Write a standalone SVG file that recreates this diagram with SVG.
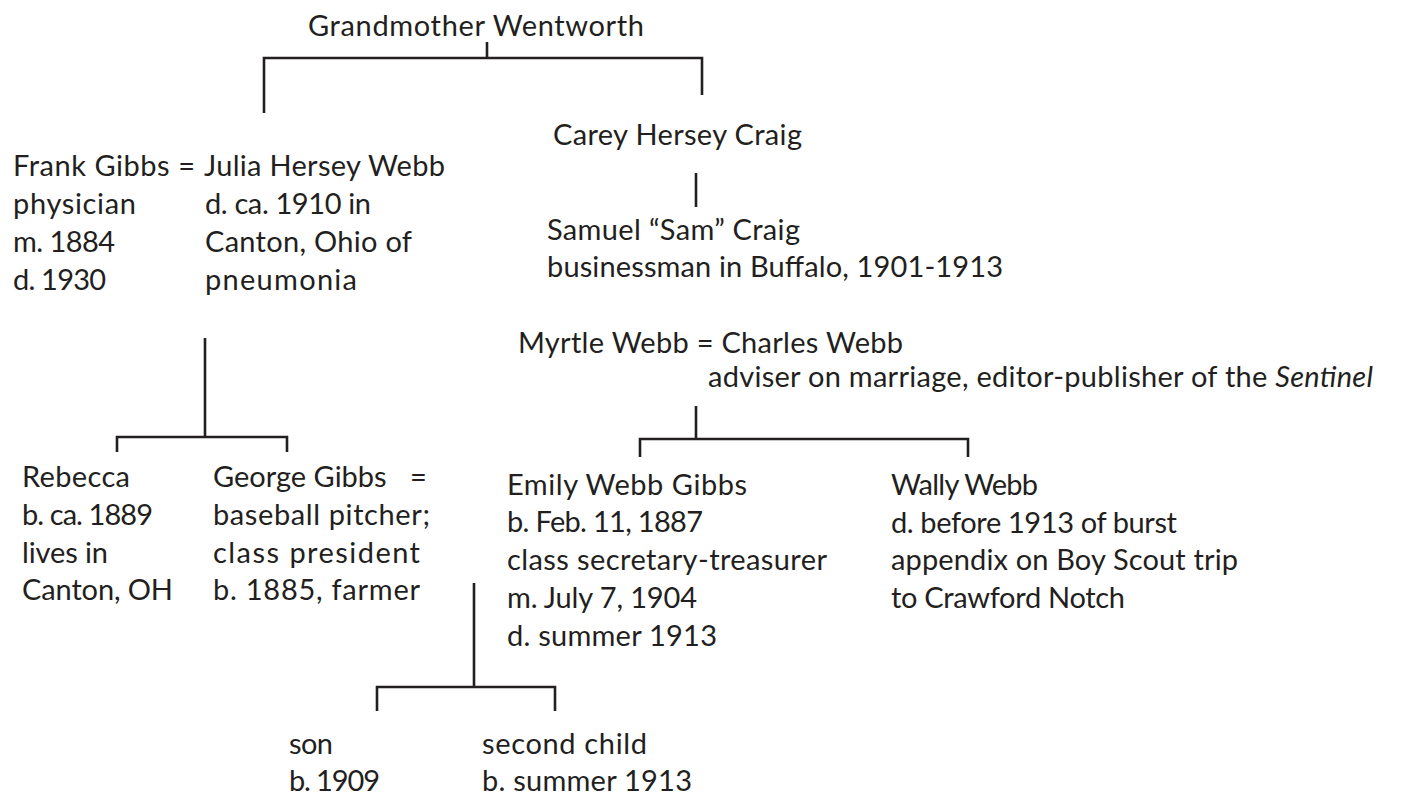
<svg xmlns="http://www.w3.org/2000/svg" width="1403" height="796" viewBox="0 0 1403 796">
<style>
  text { font-family: Lato, "Liberation Sans", sans-serif; font-size: 29px; fill: #231f20; }
  .ln { stroke: #231f20; stroke-width: 2.6; fill: none; stroke-linecap: butt; stroke-linejoin: miter; }
</style>
<rect width="1403" height="796" fill="#ffffff"/>
<g id="connectors">
  <path class="ln" d="M487,42 V58 M264,113 V58 H702 V95"/>
  <path class="ln" d="M696,173 V207"/>
  <path class="ln" d="M205,338 V437 M117,452 V437 H287 V452"/>
  <path class="ln" d="M696,406 V439 M640,457 V439 H968 V457"/>
  <path class="ln" d="M474,583 V687 M377,711 V687 H555 V711"/>
</g>
<g id="grandmother">
  <text x="308" y="36" textLength="336" lengthAdjust="spacing">Grandmother Wentworth</text>
</g>
<g id="frank">
  <text x="13" y="176" textLength="182" lengthAdjust="spacing">Frank Gibbs =</text>
  <text x="13" y="214" textLength="123" lengthAdjust="spacing">physician</text>
  <text x="13" y="252" textLength="102" lengthAdjust="spacing">m. 1884</text>
  <text x="13" y="290" textLength="93" lengthAdjust="spacing">d. 1930</text>
</g>
<g id="julia">
  <text x="204" y="176" textLength="241" lengthAdjust="spacing">Julia Hersey Webb</text>
  <text x="205" y="214" textLength="166" lengthAdjust="spacing">d. ca. 1910 in</text>
  <text x="205" y="252" textLength="207" lengthAdjust="spacing">Canton, Ohio of</text>
  <text x="205" y="290" textLength="152" lengthAdjust="spacing">pneumonia</text>
</g>
<g id="carey">
  <text x="553" y="145" textLength="249" lengthAdjust="spacing">Carey Hersey Craig</text>
</g>
<g id="samuel">
  <text x="547" y="240" textLength="253" lengthAdjust="spacing">Samuel “Sam” Craig</text>
  <text x="547" y="277" textLength="456" lengthAdjust="spacing">businessman in Buffalo, 1901-1913</text>
</g>
<g id="webbs">
  <text x="518" y="353" textLength="385" lengthAdjust="spacing">Myrtle Webb = Charles Webb</text>
  <text x="708" y="387" textLength="665" lengthAdjust="spacing">adviser on marriage, editor-publisher of the <tspan font-style="italic">Sentinel</tspan></text>
</g>
<g id="rebecca">
  <text x="22" y="487" textLength="108" lengthAdjust="spacing">Rebecca</text>
  <text x="22" y="525" textLength="131" lengthAdjust="spacing">b. ca. 1889</text>
  <text x="22" y="563" textLength="86" lengthAdjust="spacing">lives in</text>
  <text x="22" y="600" textLength="151" lengthAdjust="spacing">Canton, OH</text>
</g>
<g id="george">
  <text x="213" y="487">George Gibbs</text>
  <text x="410" y="487">=</text>
  <text x="213" y="525" textLength="217" lengthAdjust="spacing">baseball pitcher;</text>
  <text x="213" y="563" textLength="207" lengthAdjust="spacing">class president</text>
  <text x="213" y="600" textLength="207" lengthAdjust="spacing">b. 1885, farmer</text>
</g>
<g id="emily">
  <text x="507" y="495" textLength="240" lengthAdjust="spacing">Emily Webb Gibbs</text>
  <text x="507" y="532" textLength="196" lengthAdjust="spacing">b. Feb. 11, 1887</text>
  <text x="507" y="570" textLength="320" lengthAdjust="spacing">class secretary-treasurer</text>
  <text x="507" y="608" textLength="190" lengthAdjust="spacing">m. July 7, 1904</text>
  <text x="507" y="646" textLength="210" lengthAdjust="spacing">d. summer 1913</text>
</g>
<g id="wally">
  <text x="891" y="495" textLength="147" lengthAdjust="spacing">Wally Webb</text>
  <text x="891" y="533" textLength="286" lengthAdjust="spacing">d. before 1913 of burst</text>
  <text x="891" y="570" textLength="347" lengthAdjust="spacing">appendix on Boy Scout trip</text>
  <text x="891" y="608" textLength="234" lengthAdjust="spacing">to Crawford Notch</text>
</g>
<g id="son">
  <text x="289" y="754" textLength="44" lengthAdjust="spacing">son</text>
  <text x="289" y="791" textLength="91" lengthAdjust="spacing">b. 1909</text>
</g>
<g id="second-child">
  <text x="482" y="754" textLength="165" lengthAdjust="spacing">second child</text>
  <text x="482" y="791" textLength="210" lengthAdjust="spacing">b. summer 1913</text>
</g>
</svg>
